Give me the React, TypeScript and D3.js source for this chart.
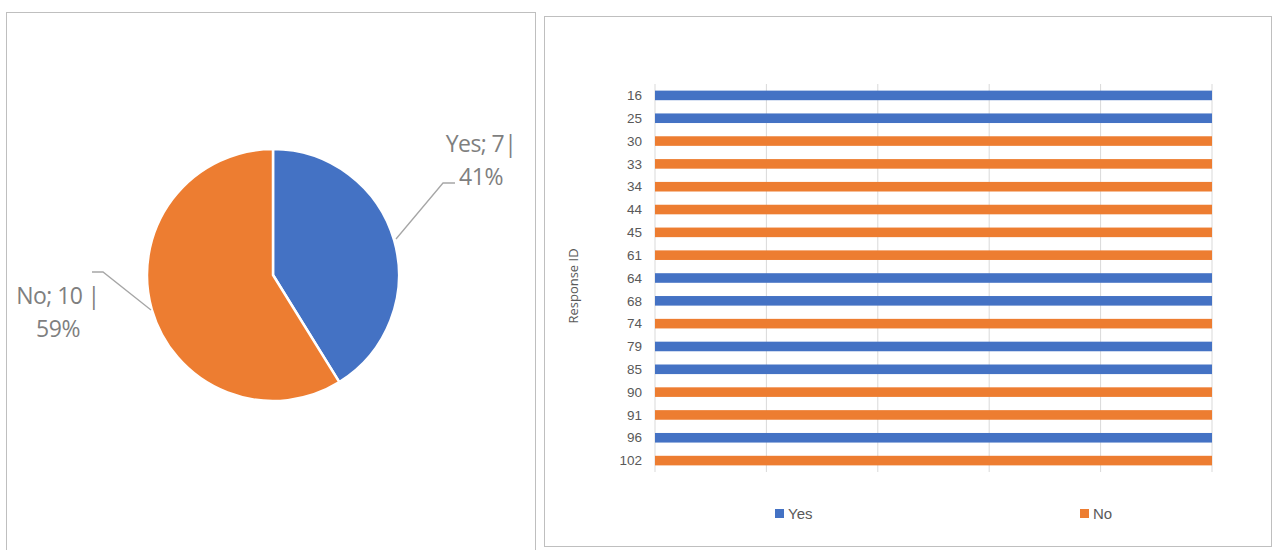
import React from "react";
import * as d3 from "d3";

const pieLabels = ["Yes", "No"];
const pieValues = [7, 10];
const pieColors = ["#4472C4", "#ED7D31"];

const responseIds = ["16", "25", "30", "33", "34", "44", "45", "61", "64", "68", "74", "79", "85", "90", "91", "96", "102"];
const responseAnswers = ["Yes", "Yes", "No", "No", "No", "No", "No", "No", "Yes", "Yes", "No", "Yes", "Yes", "No", "No", "Yes", "No"];
const barValues = [1, 1, 1, 1, 1, 1, 1, 1, 1, 1, 1, 1, 1, 1, 1, 1, 1];
const xTicks = [0, 0.2, 0.4, 0.6, 0.8, 1];

const GRAY_TEXT = "#7f7f7f";
const AXIS_TEXT = "#595959";
const BORDER = "#bfbfbf";
const GRID = "#d9d9d9";

export default function App() {
  // Pie
  const cx = 273, cy = 275, r = 126;
  const pie = d3.pie<number>().sort(null).value((d) => d)(pieValues);
  const arc = d3.arc<d3.PieArcDatum<number>>().innerRadius(0).outerRadius(r);
  const total = d3.sum(pieValues);

  // Bar chart
  const x = d3.scaleLinear().domain([0, 1]).range([655, 1212]);
  const y = d3.scaleBand().domain(responseIds).range([84, 472]).paddingInner(0.58).paddingOuter(0.29);
  const color = d3.scaleOrdinal<string, string>().domain(pieLabels).range(pieColors);

  const labelFont = "'Liberation Sans Narrow', 'Liberation Sans', sans-serif";
  const pieFont = "'Open Sans', 'Noto Sans', sans-serif";

  return (
    <svg width={1274} height={550} style={{ position: "absolute", left: 0, top: 0, background: "#fff" }}>
      {/* Left panel border */}
      <rect x={6.5} y={12.5} width={529} height={560} fill="#fff" stroke={BORDER} strokeWidth={1} />
      {/* Right panel border */}
      <rect x={544.5} y={16.5} width={727} height={530} fill="#fff" stroke={BORDER} strokeWidth={1} />

      {/* Pie */}
      <g transform={`translate(${cx},${cy})`}>
        {pie.map((p, i) => (
          <path key={i} d={arc(p) || ""} fill={pieColors[i]} stroke="#fff" strokeWidth={2.5} strokeLinejoin="round" />
        ))}
      </g>
      {/* Leader lines */}
      <polyline points="396,239 443,183 455,183" fill="none" stroke="#a6a6a6" strokeWidth={1.3} />
      <polyline points="151,310 103,272 92,272" fill="none" stroke="#a6a6a6" strokeWidth={1.3} />
      {/* Pie labels */}
      {pie.map((p, i) => {
        const pct = Math.round((pieValues[i] / total) * 100);
        const isYes = i === 0;
        const lx = isYes ? 481 : 58;
        const ly1 = isYes ? 152 : 304;
        const line1 = isYes ? `${pieLabels[i]}; ${pieValues[i]}|` : `${pieLabels[i]}; ${pieValues[i]} |`;
        return (
          <g key={i} fontFamily={pieFont} fontSize={23} fill={GRAY_TEXT} textAnchor="middle">
            <text x={lx} y={ly1} letterSpacing={-0.6}>{line1}</text>
            <text x={lx} y={ly1 + 32.5} letterSpacing={-0.4}>{`${pct}%`}</text>
          </g>
        );
      })}

      {/* Gridlines */}
      {xTicks.map((t) => (
        <line key={t} x1={x(t)} x2={x(t)} y1={84} y2={472} stroke={GRID} strokeWidth={1} />
      ))}
      {/* Bars */}
      {responseIds.map((id, i) => (
        <rect
          key={id}
          x={x(0)}
          y={y(id)}
          width={x(barValues[i]) - x(0)}
          height={y.bandwidth()}
          fill={color(responseAnswers[i])}
        />
      ))}
      {/* Y labels */}
      {responseIds.map((id) => (
        <text
          key={id}
          x={642}
          y={(y(id) || 0) + y.bandwidth() / 2}
          dy="0.35em"
          textAnchor="end"
          fontFamily={labelFont}
          fontSize={13.5}
          fill={AXIS_TEXT}
        >
          {id}
        </text>
      ))}
      {/* Axis title */}
      <text
        transform="translate(578,286) rotate(-90)"
        textAnchor="middle"
        fontFamily={pieFont}
        fontSize={13}
        fill={AXIS_TEXT}
      >
        Response ID
      </text>

      {/* Legend */}
      {pieLabels.map((lab, i) => {
        const lx = i === 0 ? 775 : 1080;
        return (
          <g key={lab}>
            <rect x={lx} y={509} width={9} height={9} fill={pieColors[i]} />
            <text x={lx + 13} y={518.5} fontFamily={labelFont} fontSize={15} fill={AXIS_TEXT}>
              {lab}
            </text>
          </g>
        );
      })}
    </svg>
  );
}
